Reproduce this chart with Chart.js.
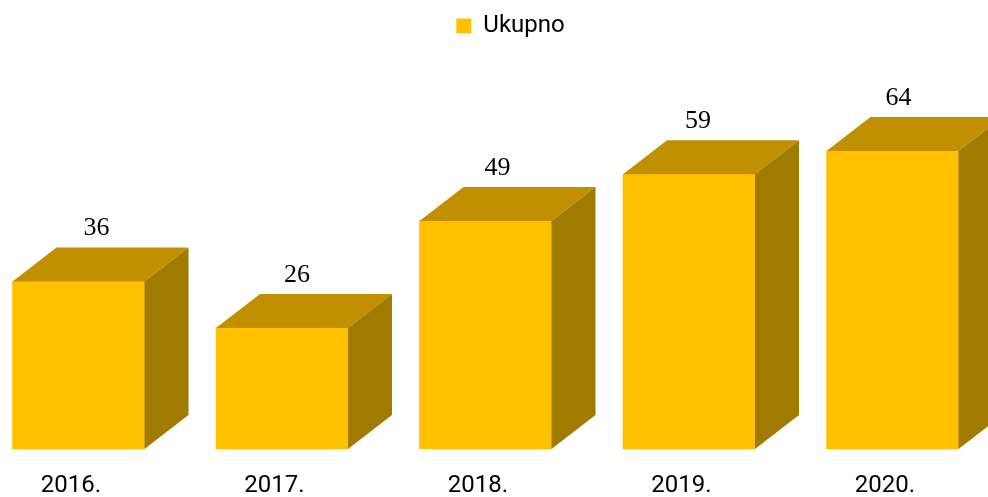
<!DOCTYPE html>
<html>
<head>
<meta charset="utf-8">
<script src="https://cdn.jsdelivr.net/npm/chart.js@4"></script>
<style>
  html, body { margin: 0; padding: 0; background: #fff; }
  #wrap { width: 988px; height: 497px; }
</style>
</head>
<body>
<div id="wrap"><canvas id="ukupnoChart" width="988" height="497"></canvas></div>
<script>
// chart data
const years = ['2016.', '2017.', '2018.', '2019.', '2020.'];
const ukupno = [36, 26, 49, 59, 64];
const seriesName = 'Ukupno';

// colours of the three faces
const frontColor = '#FFC000';
const topColor = '#C09000';
const sideColor = '#A07B00';

// draws the top and side faces of each bar plus the value on top
const box3d = {
    id: 'box3d',
    afterLayout(chart) {
        // nudge the legend to where the original sits
        const lg = chart.legend;
        lg.left += 25; lg.right += 25;
        lg.top += 4; lg.bottom += 4;
    },
    afterDatasetsDraw(chart) {
        const ctx = chart.ctx;
        const meta = chart.getDatasetMeta(0);
        const dx = 44, dy = -34;
        ctx.save();
        meta.data.forEach((bar, i) => {
            const p = bar.getProps(['x', 'y', 'base', 'width'], true);
            const left = p.x - p.width / 2;
            const right = p.x + p.width / 2;

            // top face
            ctx.fillStyle = topColor;
            ctx.beginPath();
            ctx.moveTo(left, p.y);
            ctx.lineTo(right, p.y);
            ctx.lineTo(right + dx, p.y + dy);
            ctx.lineTo(left + dx, p.y + dy);
            ctx.closePath();
            ctx.fill();

            // side face
            ctx.fillStyle = sideColor;
            ctx.beginPath();
            ctx.moveTo(right, p.y);
            ctx.lineTo(right + dx, p.y + dy);
            ctx.lineTo(right + dx, p.base + dy);
            ctx.lineTo(right, p.base);
            ctx.closePath();
            ctx.fill();

            // value label
            const area = chart.chartArea;
            const shift = 18 - 12 * (p.x - area.left) / (area.right - area.left);
            ctx.fillStyle = '#000';
            ctx.font = '26px "Liberation Serif", "Times New Roman", serif';
            ctx.textAlign = 'center';
            ctx.textBaseline = 'middle';
            ctx.fillText(String(ukupno[i]), p.x + shift, p.y + dy - 19);
        });
        ctx.restore();
    }
};

const ctx = document.getElementById('ukupnoChart').getContext('2d');
const ukupnoChart = new Chart(ctx, {
    type: 'bar',
    data: {
        labels: years,
        datasets: [{
            label: seriesName,
            data: ukupno,
            backgroundColor: frontColor,
            borderWidth: 0,
            barThickness: 132,
            clip: false,
        }],
    },
    options: {
        responsive: false,
        animation: false,
        layout: {
            padding: { left: 78.5, right: 95.5, top: 0, bottom: 0 },
        },
        plugins: {
            legend: {
                display: true,
                position: 'top',
                labels: {
                    boxWidth: 15,
                    boxHeight: 15,
                    color: '#000',
                    font: { family: 'Roboto', size: 24 },
                },
            },
            tooltip: { enabled: false },
        },
        scales: {
            x: {
                offset: false,
                grid: { display: false },
                border: { display: false },
                afterFit(scale) {
                    scale.height = 48;
                },
                ticks: {
                    color: '#000',
                    padding: 17,
                    labelOffset: -7.5,
                    maxRotation: 0,
                    font: { family: 'Roboto', size: 24, lineHeight: 1.0 },
                },
            },
            y: {
                display: false,
                min: 0,
                max: 87,
            },
        },
    },
    plugins: [box3d],
});
</script>
</body>
</html>
